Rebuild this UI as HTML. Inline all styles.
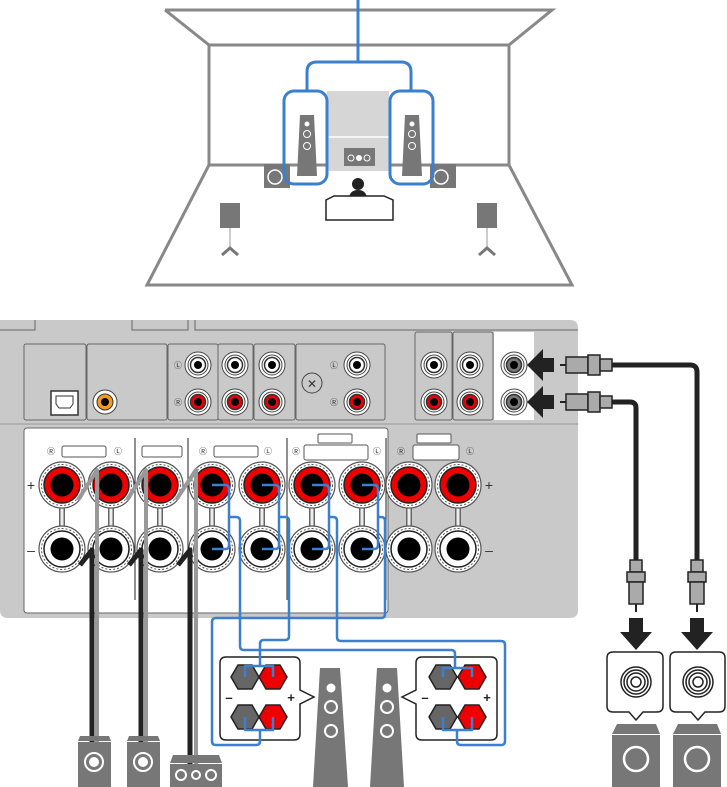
<!DOCTYPE html>
<html><head><meta charset="utf-8"><style>html,body{margin:0;padding:0;background:#fff}svg{display:block}</style></head><body>
<svg width="727" height="787" viewBox="0 0 727 787" xmlns="http://www.w3.org/2000/svg" font-family="Liberation Sans, sans-serif">
<defs>
<g id="tp">
<circle r="23" fill="#fff" stroke="#555" stroke-width="1.2"/>
<circle r="20.5" fill="none" stroke="#555" stroke-width="1" stroke-dasharray="2 2"/>
<circle r="18" fill="#e00" stroke="#222" stroke-width="1.5"/>
<circle r="11.5" fill="#000"/>
</g>
<g id="tm">
<circle r="23" fill="#fff" stroke="#555" stroke-width="1.2"/>
<circle r="20.5" fill="none" stroke="#555" stroke-width="1" stroke-dasharray="2 2"/>
<circle r="18" fill="#fff" stroke="#222" stroke-width="1.5"/>
<circle r="11.5" fill="#000"/>
</g>
<g id="rw"><circle r="13" fill="#fff" stroke="#444"/><circle r="10" fill="#fff" stroke="#444"/><circle r="7.5" fill="#fff" stroke="#333" stroke-width="1.5"/><circle r="4" fill="#000"/></g>
<g id="rr"><circle r="13" fill="#fff" stroke="#444"/><circle r="10" fill="#fff" stroke="#444"/><circle r="7.5" fill="#e00" stroke="#333" stroke-width="1.5"/><circle r="4" fill="#000"/></g>
<g id="rg"><circle r="13" fill="#fff" stroke="#444"/><circle r="10" fill="#fff" stroke="#444"/><circle r="7.5" fill="#777" stroke="#333" stroke-width="1.5"/><circle r="4" fill="#000"/></g>
<polygon id="hg" points="-14,0 -7,-12 7,-12 14,0 7,12 -7,12" fill="#666" stroke="#222" stroke-width="1.5"/>
<polygon id="hr" points="-14,0 -7,-12 7,-12 14,0 7,12 -7,12" fill="#e00" stroke="#222" stroke-width="1.5"/>
</defs>

<!-- room -->
<g fill="none" stroke="#888" stroke-width="3">
<polyline points="165,10 552,10 509,45 509,165 572,285 147,285 209,165 209,45 165,10"/>
<polyline points="209,45 509,45"/>
<polyline points="209,165 509,165"/>
</g>
<rect x="327" y="91" width="62" height="80" fill="#d6d6d6"/>
<line x1="327" y1="137" x2="389" y2="137" stroke="#fff" stroke-width="1.5"/>
<rect x="344" y="148" width="31" height="18" fill="#777"/>
<circle cx="351" cy="158" r="3" fill="none" stroke="#fff"/><circle cx="359" cy="158" r="3" fill="#fff"/><circle cx="367" cy="158" r="3" fill="none" stroke="#fff"/>
<!-- subs -->
<rect x="264" y="164" width="26" height="24" fill="#777"/><circle cx="275" cy="177" r="7" fill="none" stroke="#fff" stroke-width="1.5"/>
<rect x="430" y="164" width="26" height="24" fill="#777"/><circle cx="441" cy="177" r="7" fill="none" stroke="#fff" stroke-width="1.5"/>
<!-- tall speakers -->
<polygon points="300,115 314,115 317,176 297,176" fill="#777"/>
<circle cx="307" cy="124" r="2.5" fill="#fff"/><circle cx="307" cy="134" r="3.5" fill="none" stroke="#fff"/><circle cx="307" cy="146" r="3.5" fill="none" stroke="#fff"/>
<polygon points="405,115 419,115 422,176 402,176" fill="#777"/>
<circle cx="412" cy="124" r="2.5" fill="#fff"/><circle cx="412" cy="134" r="3.5" fill="none" stroke="#fff"/><circle cx="412" cy="146" r="3.5" fill="none" stroke="#fff"/>
<!-- blue -->
<g fill="none" stroke="#3a7fd0" stroke-width="3">
<line x1="358" y1="0" x2="358" y2="62"/>
<path d="M307,90 V72 Q307,62 317,62 H401 Q411,62 411,72 V90"/>
<rect x="284" y="91" width="43" height="93" rx="10"/>
<rect x="390" y="91" width="43" height="93" rx="10"/>
</g>
<!-- person & couch -->
<circle cx="358" cy="184" r="6" fill="#222"/>
<path d="M349,198 Q350,190 358,190 Q366,190 367,198Z" fill="#222"/>
<path d="M326,200 L334,196 H384 L393,200 V220 H326Z" fill="#fff" stroke="#222" stroke-width="1.5"/>
<!-- surround -->
<rect x="220" y="203" width="20" height="25" fill="#777"/><line x1="230" y1="228" x2="230" y2="250" stroke="#999"/><path d="M222,255 L230,248 L238,255" stroke="#777" stroke-width="3" fill="none"/>
<rect x="477" y="203" width="20" height="25" fill="#777"/><line x1="487" y1="228" x2="487" y2="250" stroke="#999"/><path d="M479,255 L487,248 L495,255" stroke="#777" stroke-width="3" fill="none"/>

<!-- receiver -->
<path d="M0,320 H570 Q578,320 578,328 V610 Q578,618 570,618 H8 Q0,618 0,610Z" fill="#c9c9c9"/>
<g fill="none" stroke="#666" stroke-width="1">
<path d="M0,330 H35 V320"/><path d="M132,320 V330 H188 V320"/><path d="M195,320 V330 H578"/>
<rect x="24" y="344" width="62" height="76" rx="2"/>
<rect x="87" y="344" width="80" height="76" rx="2"/>
<rect x="168" y="344" width="50" height="76" rx="2"/>
<rect x="218" y="344" width="35" height="76" rx="2"/>
<rect x="254" y="344" width="41" height="76" rx="2"/>
<rect x="296" y="344" width="89" height="76" rx="2"/>
<rect x="415" y="332" width="37" height="88" rx="2"/>
<rect x="453" y="332" width="40" height="88" rx="2"/>
</g>
<rect x="494" y="332" width="40" height="88" fill="#fff"/>
<rect x="51" y="391" width="27" height="24" fill="#fff" stroke="#333" stroke-width="1.5"/>
<path d="M56,396 H73 V404 L70,408 H59 L56,404Z" fill="none" stroke="#333"/>
<circle cx="105" cy="402" r="12" fill="#fff" stroke="#444"/><circle cx="105" cy="402" r="8" fill="#f39a1f" stroke="#333"/><circle cx="105" cy="402" r="4" fill="#000"/>
<use href="#rw" x="198" y="365"/><use href="#rr" x="198" y="402"/>
<use href="#rw" x="235" y="365"/><use href="#rr" x="235" y="402"/>
<use href="#rw" x="272" y="365"/><use href="#rr" x="272" y="402"/>
<use href="#rw" x="357" y="365"/><use href="#rr" x="357" y="402"/>
<circle cx="312" cy="383" r="10" fill="none" stroke="#444"/><text x="312" y="388" font-size="12" text-anchor="middle" fill="#333">✕</text>
<g font-size="8" fill="#333" text-anchor="middle">
<text x="178" y="368">Ⓛ</text><text x="178" y="405">Ⓡ</text><text x="334" y="368">Ⓛ</text><text x="334" y="405">Ⓡ</text>
</g>
<use href="#rw" x="434" y="365"/><use href="#rr" x="434" y="402"/>
<use href="#rw" x="470" y="365"/><use href="#rr" x="470" y="402"/>
<use href="#rg" x="514" y="365"/><use href="#rg" x="514" y="402"/>
<!-- lower panel -->
<rect x="24" y="428" width="364" height="185" rx="3" fill="#fff" stroke="#666"/>
<line x1="0" y1="424" x2="578" y2="424" stroke="#999"/>
<g stroke="#222" stroke-width="1"><line x1="135" y1="438" x2="135" y2="600"/><line x1="188" y1="438" x2="188" y2="600"/><line x1="287" y1="438" x2="287" y2="600"/><line x1="386" y1="438" x2="386" y2="600"/></g>
<g fill="#fff" stroke="#555">
<rect x="62" y="446" width="44" height="11" rx="2"/><rect x="142" y="446" width="40" height="11" rx="2"/><rect x="214" y="446" width="44" height="11" rx="2"/>
<rect x="318" y="434" width="34" height="9" rx="1"/><rect x="304" y="445" width="64" height="15" rx="2"/>
<rect x="417" y="434" width="34" height="9" rx="1"/><rect x="413" y="445" width="46" height="15" rx="2"/>
</g>
<g font-size="8" fill="#333" text-anchor="middle">
<text x="51" y="454">Ⓡ</text><text x="118" y="454">Ⓛ</text><text x="203" y="454">Ⓡ</text><text x="268" y="454">Ⓛ</text><text x="296" y="454">Ⓡ</text><text x="377" y="454">Ⓛ</text><text x="401" y="454">Ⓡ</text><text x="470" y="454">Ⓛ</text>
</g>
<text x="31" y="490" font-size="14" fill="#333" text-anchor="middle">+</text><text x="31" y="555" font-size="14" fill="#333" text-anchor="middle">–</text>
<text x="489" y="490" font-size="14" fill="#333" text-anchor="middle">+</text><text x="489" y="555" font-size="14" fill="#333" text-anchor="middle">–</text>
<g stroke="#666" stroke-width="6">
<line x1="62" y1="500" x2="62" y2="530"/><line x1="111" y1="500" x2="111" y2="530"/><line x1="160" y1="500" x2="160" y2="530"/><line x1="212" y1="500" x2="212" y2="530"/><line x1="262" y1="500" x2="262" y2="530"/><line x1="312" y1="500" x2="312" y2="530"/><line x1="362" y1="500" x2="362" y2="530"/><line x1="409" y1="500" x2="409" y2="530"/><line x1="458" y1="500" x2="458" y2="530"/>
</g>
<g stroke="#eee" stroke-width="3">
<line x1="62" y1="500" x2="62" y2="530"/><line x1="111" y1="500" x2="111" y2="530"/><line x1="160" y1="500" x2="160" y2="530"/><line x1="212" y1="500" x2="212" y2="530"/><line x1="262" y1="500" x2="262" y2="530"/><line x1="312" y1="500" x2="312" y2="530"/><line x1="362" y1="500" x2="362" y2="530"/><line x1="409" y1="500" x2="409" y2="530"/><line x1="458" y1="500" x2="458" y2="530"/>
</g>
<use href="#tp" x="62" y="485"/><use href="#tp" x="111" y="485"/><use href="#tp" x="160" y="485"/><use href="#tp" x="212" y="485"/><use href="#tp" x="262" y="485"/><use href="#tp" x="312" y="485"/><use href="#tp" x="362" y="485"/><use href="#tp" x="409" y="485"/><use href="#tp" x="458" y="485"/>
<use href="#tm" x="62" y="549"/><use href="#tm" x="111" y="549"/><use href="#tm" x="160" y="549"/><use href="#tm" x="212" y="549"/><use href="#tm" x="262" y="549"/><use href="#tm" x="312" y="549"/><use href="#tm" x="362" y="549"/><use href="#tm" x="409" y="549"/><use href="#tm" x="458" y="549"/>

<!-- gray/black speaker wires -->
<g fill="none" stroke-linejoin="round">
<path d="M80,565 L92,550 V787" stroke="#222" stroke-width="5"/>
<path d="M129,565 L141,550 V787" stroke="#222" stroke-width="5"/>
<path d="M178,565 L190,550 V787" stroke="#222" stroke-width="5"/>
<path d="M78,500 L97,470 V787" stroke="#999" stroke-width="4"/>
<path d="M127,500 L146,470 V787" stroke="#999" stroke-width="4"/>
<path d="M176,500 L196,470 V787" stroke="#999" stroke-width="4"/>
</g>
<!-- bottom left speakers -->
<polygon points="80,736 109,736 111,741 78,741" fill="#777"/><rect x="78" y="742" width="33" height="45" fill="#777"/><circle cx="94" cy="762" r="9" fill="none" stroke="#fff" stroke-width="2"/><circle cx="94" cy="762" r="5" fill="#fff"/>
<polygon points="129,736 158,736 160,741 127,741" fill="#777"/><rect x="127" y="742" width="33" height="45" fill="#777"/><circle cx="143" cy="762" r="9" fill="none" stroke="#fff" stroke-width="2"/><circle cx="143" cy="762" r="5" fill="#fff"/>
<polygon points="173,755 219,755 222,763 170,763" fill="#777"/><rect x="170" y="764" width="52" height="23" fill="#777"/>
<circle cx="181" cy="775" r="5" fill="none" stroke="#fff" stroke-width="2"/><circle cx="196" cy="775" r="4" fill="none" stroke="#fff" stroke-width="2"/><circle cx="211" cy="775" r="5" fill="none" stroke="#fff" stroke-width="2"/>

<!-- front speaker terminal boxes -->
<path d="M226,657 H294 Q300,657 300,663 V690 L314,697 L300,704 V734 Q300,740 294,740 H226 Q220,740 220,734 V663 Q220,657 226,657Z" fill="#fff" stroke="#222" stroke-width="1.5"/>
<path d="M422,657 H491 Q497,657 497,663 V734 Q497,740 491,740 H422 Q416,740 416,734 V704 L402,697 L416,690 V663 Q416,657 422,657Z" fill="#fff" stroke="#222" stroke-width="1.5"/>
<use href="#hg" x="245" y="677"/><use href="#hr" x="273" y="677"/><use href="#hg" x="245" y="717"/><use href="#hr" x="273" y="717"/>
<use href="#hg" x="443" y="677"/><use href="#hr" x="472" y="677"/><use href="#hg" x="443" y="717"/><use href="#hr" x="472" y="717"/>
<g font-size="13" font-weight="bold" fill="#222" text-anchor="middle"><text x="229" y="702">–</text><text x="291" y="702">+</text><text x="425" y="702">–</text><text x="487" y="702">+</text></g>
<polygon points="320,668 340,668 348,787 313,787" fill="#777"/>
<circle cx="331" cy="688" r="4.5" fill="#fff"/><circle cx="331" cy="707" r="6" fill="none" stroke="#fff" stroke-width="2"/><circle cx="331" cy="731" r="6" fill="none" stroke="#fff" stroke-width="2"/>
<polygon points="377,668 397,668 404,787 370,787" fill="#777"/>
<circle cx="387" cy="688" r="4.5" fill="#fff"/><circle cx="387" cy="707" r="6" fill="none" stroke="#fff" stroke-width="2"/><circle cx="387" cy="731" r="6" fill="none" stroke="#fff" stroke-width="2"/>

<!-- blue wires -->
<g fill="none" stroke="#3a7fd0" stroke-width="2.5" stroke-linejoin="round">
<path d="M212,485 H226 Q229,485 229,489 V545 Q229,549 226,549 H212"/>
<path d="M262,485 H275 Q279,485 279,489 V545 Q279,549 275,549 H262"/>
<path d="M312,485 H325 Q329,485 329,489 V545 Q329,549 325,549 H312"/>
<path d="M362,485 H374 Q378,485 378,489 V545 Q378,549 374,549 H362"/>
<path d="M229,517 H236 Q240,517 240,521 V646 Q240,650 244,650 H451 Q455,650 455,654 V668 H443 V677 M455,668 H472 V677"/>
<path d="M279,517 H285 Q289,517 289,521 V636 Q289,640 285,640 H264 Q260,640 260,644 V666 H245 V677 M260,666 H273 V677"/>
<path d="M329,517 H333 Q337,517 337,521 V637 Q337,641 341,641 H501 Q505,641 505,645 V741 Q505,745 501,745 H461 Q457,745 457,741 V730 H443 V717 M457,730 H472 V717"/>
<path d="M378,517 H381 Q385,517 385,521 V614 Q385,618 381,618 H216 Q212,618 212,622 V741 Q212,745 216,745 H256 Q260,745 260,741 V730 H245 V717 M260,730 H273 V717"/>
</g>

<!-- RCA cables right -->
<g fill="none" stroke="#222" stroke-width="5" stroke-linejoin="round">
<path d="M612,365 H690 Q697,365 697,372 V560"/>
<path d="M612,402 H630 Q636,402 636,408 V560"/>
</g>
<g fill="#aaa" stroke="#222" stroke-width="1.5">
<rect x="566" y="357" width="22" height="16"/><rect x="588" y="355" width="12" height="20"/><rect x="600" y="359" width="12" height="12"/>
<rect x="566" y="394" width="22" height="16"/><rect x="588" y="392" width="12" height="20"/><rect x="600" y="396" width="12" height="12"/>
<rect x="630" y="560" width="12" height="12"/><rect x="627" y="572" width="18" height="10"/><rect x="629" y="582" width="14" height="22"/>
<rect x="691" y="560" width="12" height="12"/><rect x="688" y="572" width="18" height="10"/><rect x="690" y="582" width="14" height="22"/>
</g>
<line x1="560" y1="365" x2="566" y2="365" stroke="#222" stroke-width="2"/><line x1="560" y1="402" x2="566" y2="402" stroke="#222" stroke-width="2"/>
<line x1="636" y1="604" x2="636" y2="612" stroke="#222" stroke-width="2"/><line x1="697" y1="604" x2="697" y2="612" stroke="#222" stroke-width="2"/>
<polygon points="527,365 543,349 543,358 554,358 554,372 543,372 543,381" fill="#222"/>
<polygon points="527,402 543,386 543,395 554,395 554,409 543,409 543,418" fill="#222"/>
<polygon points="629,618 643,618 643,632 652,632 636,650 620,632 629,632" fill="#222"/>
<polygon points="690,618 704,618 704,632 713,632 697,650 681,632 690,632" fill="#222"/>
<path d="M613,652 H657 Q663,652 663,658 V706 Q663,712 657,712 H643 L636,720 L629,712 H613 Q607,712 607,706 V658 Q607,652 613,652Z" fill="#fff" stroke="#222" stroke-width="1.5"/>
<path d="M676,652 H719 Q725,652 725,658 V706 Q725,712 719,712 H705 L698,720 L691,712 H676 Q670,712 670,706 V658 Q670,652 676,652Z" fill="#fff" stroke="#222" stroke-width="1.5"/>
<g fill="#fff" stroke="#222" stroke-width="1.5">
<circle cx="636" cy="682" r="15"/><circle cx="636" cy="682" r="12"/><circle cx="636" cy="682" r="9"/><circle cx="636" cy="682" r="5"/>
<circle cx="698" cy="682" r="15"/><circle cx="698" cy="682" r="12"/><circle cx="698" cy="682" r="9"/><circle cx="698" cy="682" r="5"/>
</g>
<polygon points="617,724 656,724 660,734 612,734" fill="#777"/><rect x="612" y="735" width="48" height="52" fill="#777"/><circle cx="636" cy="759" r="12" fill="none" stroke="#fff" stroke-width="2.5"/>
<polygon points="678,724 717,724 721,734 673,734" fill="#777"/><rect x="673" y="735" width="48" height="52" fill="#777"/><circle cx="697" cy="759" r="12" fill="none" stroke="#fff" stroke-width="2.5"/>
</svg>
</body></html>
